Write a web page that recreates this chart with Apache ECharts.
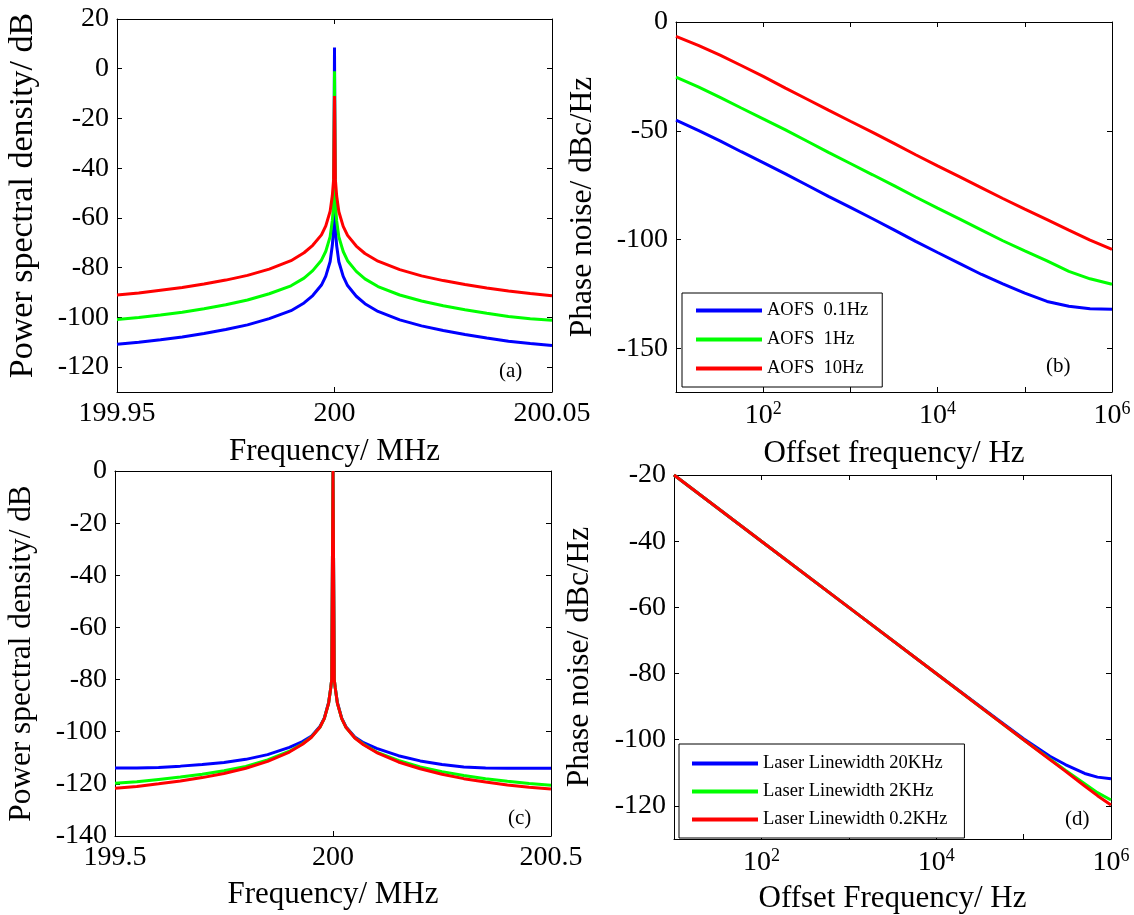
<!DOCTYPE html>
<html><head><meta charset="utf-8">
<script src="https://cdn.jsdelivr.net/npm/echarts@6/dist/echarts.min.js"></script>
<style>html,body{margin:0;padding:0;background:#fff}#c{width:1134px;height:915px}</style>
</head><body><div id="c"></div>
<script>
// ---------- Panel (a): PSD vs frequency (MHz) ----------
const freqA = [199.95,199.955,199.96,199.965,199.97,199.975,199.98,199.985,199.99,199.993,199.995,199.997,199.998,199.999,199.9995,199.9998,200,
  200.0002,200.0005,200.001,200.002,200.003,200.005,200.007,200.01,200.015,200.02,200.025,200.03,200.035,200.04,200.045,200.05];
const psdA_01Hz = [-110.8,-110.0,-109.0,-107.9,-106.5,-104.9,-103.0,-100.5,-97.3,-94.2,-91.2,-87.0,-83.4,-77.5,-71.0,-64.5,8.5,
  -64.5,-71.2,-77.6,-83.5,-87.2,-91.5,-94.5,-97.6,-101.0,-103.4,-105.3,-106.9,-108.3,-109.6,-110.5,-111.3];
const psdA_1Hz = [-100.8,-100.0,-99.0,-97.9,-96.5,-94.9,-93.0,-90.5,-87.3,-84.2,-81.2,-77.0,-73.4,-67.5,-61.0,-54.5,-1,
  -54.5,-61.2,-67.6,-73.5,-77.2,-81.5,-84.5,-87.6,-91.0,-93.4,-95.3,-96.9,-98.3,-99.6,-100.5,-101.1];
const psdA_10Hz = [-91.0,-90.2,-89.1,-88.0,-86.6,-85.0,-83.1,-80.6,-77.2,-74.0,-71.0,-66.8,-63.2,-57.3,-51.0,-44.5,-11,
  -44.5,-51.2,-57.5,-63.4,-67.0,-71.3,-74.3,-77.4,-80.8,-83.3,-85.2,-86.8,-88.2,-89.4,-90.4,-91.3];

// ---------- Panel (b): phase noise vs offset frequency (Hz) ----------
const offB = [10,18,32,56,100,180,320,560,1000,1800,3200,5600,10000,18000,32000,56000,100000,180000,320000,560000,1000000];
const pnB_01Hz = [-45.1,-49.8,-54.6,-59.6,-64.6,-69.8,-75.0,-80.1,-85.2,-90.4,-95.6,-100.8,-105.9,-111.0,-116.0,-120.3,-124.6,-128.4,-130.6,-131.7,-132.0];
const pnB_1Hz  = [-25.3,-29.8,-34.6,-39.5,-44.5,-49.6,-54.8,-59.9,-65.0,-70.2,-75.3,-80.4,-85.5,-90.6,-95.6,-100.5,-105.2,-109.8,-114.6,-118.0,-120.5];
const pnB_10Hz = [-6.6,-10.7,-15.2,-20.0,-25.0,-30.4,-35.5,-40.5,-45.6,-50.7,-55.9,-61.0,-66.1,-71.2,-76.2,-81.1,-86.0,-90.8,-95.6,-100.2,-104.5];
const namesB = ['AOFS  0.1Hz','AOFS  1Hz','AOFS  10Hz'];

// ---------- Panel (c): PSD vs frequency (MHz) ----------
const freqC = [199.5,199.55,199.6,199.65,199.7,199.75,199.8,199.85,199.9,199.93,199.95,199.97,199.98,199.99,199.995,199.997,200,
  200.003,200.005,200.01,200.02,200.03,200.05,200.07,200.1,200.15,200.2,200.25,200.3,200.35,200.4,200.45,200.5];
const psdC_20K = [-113.9,-113.9,-113.7,-113.2,-112.6,-111.8,-110.6,-108.8,-106.0,-103.8,-101.8,-98.0,-94.8,-88.8,-83.0,-80.0,0,
  -80.0,-83.0,-88.8,-94.8,-98.2,-102.0,-104.2,-106.4,-109.2,-111.2,-112.6,-113.5,-113.9,-114.0,-114.0,-114.0];
const psdC_2K = [-119.8,-119.2,-118.3,-117.4,-116.3,-115.0,-113.3,-110.8,-107.5,-104.6,-102.1,-98.3,-95.0,-89.0,-83.0,-80.0,0,
  -80.0,-83.0,-89.0,-95.0,-98.4,-102.3,-104.8,-107.8,-111.0,-113.5,-115.3,-116.8,-118.0,-119.0,-119.9,-120.5];
const psdC_02K = [-121.7,-121.0,-120.0,-118.9,-117.6,-116.0,-114.0,-111.4,-107.8,-104.8,-102.2,-98.3,-95.0,-89.0,-83.0,-80.0,0,
  -80.0,-83.0,-89.0,-95.0,-98.4,-102.4,-105.0,-108.0,-111.6,-114.2,-116.3,-118.0,-119.3,-120.4,-121.3,-122.0];

// ---------- Panel (d): phase noise vs offset frequency (Hz) ----------
const offD = [10,100,1000,10000,50000,100000,200000,300000,500000,700000,1000000];
const pnD_20K = [-20,-40,-60,-80,-93.8,-99.7,-105.0,-107.5,-110.2,-111.3,-111.8];
const pnD_2K  = [-20,-40,-60,-80,-94.0,-100.0,-105.8,-109.2,-113.3,-116.0,-118.2];
const pnD_02K = [-20,-40,-60,-80,-94.0,-100.0,-106.0,-109.5,-114.0,-116.9,-119.7];
const namesD = ['Laser Linewidth 20KHz','Laser Linewidth 2KHz','Laser Linewidth 0.2KHz'];

const COLORS = ['#0000ff','#00ff00','#ff0000'];
const FONT = "'Liberation Serif','Times New Roman',serif";
const TICK_FS = 28, XNAME_FS = 31;

const pair = (xs, ys) => xs.map((x, i) => [x, ys[i]]);
const black = {color:'#000', width:1};
const tickRich = { t: {fontFamily:FONT, fontSize:TICK_FS, color:'#000'},
                   b: {fontFamily:FONT, fontSize:TICK_FS, color:'#000'},
                   s: {fontFamily:FONT, fontSize:18, color:'#000', verticalAlign:'middle', padding:[0,0,13,0]} };

function xAxisPair(gi, base, fmt, name, gap) {
  const common = Object.assign({gridIndex: gi, splitLine:{show:false},
    axisLine:{onZero:false, lineStyle:black}, axisTick:{inside:true, length:5, lineStyle:black}}, base);
  return [
    Object.assign({}, common, {position:'bottom',
      axisLabel: {color:'#000', fontFamily:FONT, fontSize:TICK_FS, margin:8, formatter: fmt, rich: tickRich},
      name: name, nameLocation:'middle', nameGap: gap,
      nameTextStyle:{color:'#000', fontFamily:FONT, fontSize:XNAME_FS}}),
    Object.assign({}, common, {position:'top', axisLabel:{show:false}})
  ];
}
function yAxisPair(gi, base, fmt, name, gap, fs, pad) {
  const common = Object.assign({type:'value', gridIndex: gi, splitLine:{show:false},
    axisLine:{onZero:false, lineStyle:black}, axisTick:{inside:true, length:5, lineStyle:black}}, base);
  return [
    Object.assign({}, common, {position:'left',
      axisLabel: {color:'#000', fontFamily:FONT, fontSize:TICK_FS, margin:8, formatter: fmt, rich: tickRich},
      name: name, nameLocation:'middle', nameGap: gap,
      nameTextStyle:{color:'#000', fontFamily:FONT, fontSize:fs, padding: pad}}),
    Object.assign({}, common, {position:'right', axisLabel:{show:false}})
  ];
}
const step = s => v => { const r = Math.round(v); return (Math.abs(v - r) < 1e-6 && r % s === 0) ? '{t|' + r + '}' : ''; };
const fixed = d => v => '{t|' + (+v.toFixed(d)) + '}';
const logFmt = v => { const e = Math.round(Math.log10(v)); return e % 2 === 0 ? '{b|10}{s|' + e + '}' : ''; };

const xAxes = [].concat(
  xAxisPair(0, {type:'value', min:199.95, max:200.05, interval:0.05}, fixed(2), 'Frequency/ MHz', 44),
  xAxisPair(1, {type:'log', logBase:10, min:10, max:1000000}, logFmt, 'Offset frequency/ Hz', 46),
  xAxisPair(2, {type:'value', min:199.5, max:200.5, interval:0.5}, fixed(1), 'Frequency/ MHz', 43),
  xAxisPair(3, {type:'log', logBase:10, min:10, max:1000000}, logFmt, 'Offset Frequency/ Hz', 44)
);
const yAxes = [].concat(
  yAxisPair(0, {min:-130, max:20, splitNumber:7}, step(20), 'Power spectral density/ dB', 77, 34, [0,0,0,20]),
  yAxisPair(1, {min:-170, max:0, splitNumber:4}, step(50), 'Phase noise/ dBc/Hz', 77, 31.5, 0),
  yAxisPair(2, {min:-140, max:0, interval:20}, step(20), 'Power spectral density/ dB', 78, 31.3, 0),
  yAxisPair(3, {min:-130, max:-20, splitNumber:5}, step(20), 'Phase noise/ dBc/Hz', 78, 31.5, 0)
);

function line(name, data, axis, color) {
  return {type:'line', name: name, data: data, xAxisIndex: axis*2, yAxisIndex: axis*2,
    showSymbol:false, symbol:'none', lineStyle:{color: color, width:3}, itemStyle:{color: color}, z: 3};
}
const series = [
  line('a 0.1Hz', pair(freqA, psdA_01Hz), 0, COLORS[0]),
  line('a 1Hz', pair(freqA, psdA_1Hz), 0, COLORS[1]),
  line('a 10Hz', pair(freqA, psdA_10Hz), 0, COLORS[2]),
  line(namesB[0], pair(offB, pnB_01Hz), 1, COLORS[0]),
  line(namesB[1], pair(offB, pnB_1Hz), 1, COLORS[1]),
  line(namesB[2], pair(offB, pnB_10Hz), 1, COLORS[2]),
  line('c 20K', pair(freqC, psdC_20K), 2, COLORS[0]),
  line('c 2K', pair(freqC, psdC_2K), 2, COLORS[1]),
  line('c 0.2K', pair(freqC, psdC_02K), 2, COLORS[2]),
  line(namesD[0], pair(offD, pnD_20K), 3, COLORS[0]),
  line(namesD[1], pair(offD, pnD_2K), 3, COLORS[1]),
  line(namesD[2], pair(offD, pnD_02K), 3, COLORS[2])
];

const legendBase = {orient:'vertical', icon:'rect', itemWidth:66, itemHeight:4, backgroundColor:'#fff',
  borderColor:'#000', borderWidth:1, borderRadius:0, selectedMode:false,
  textStyle:{color:'#000', fontFamily:FONT, fontSize:18.5}};

const tag = (t, x, y) => ({type:'text', left: x, top: y,
  style:{text:t, fill:'#000', font: '21px ' + FONT}, z: 10});

const option = {
  animation: false,
  backgroundColor: '#fff',
  textStyle: {fontFamily: FONT, color: '#000'},
  grid: [
    {left:117, top:19, width:435, height:373},
    {left:676, top:22, width:436, height:370},
    {left:115, top:471, width:436, height:365},
    {left:674, top:475, width:437, height:366}
  ],
  xAxis: xAxes,
  yAxis: yAxes,
  legend: [
    Object.assign({}, legendBase, {data: namesB, left:682, top:293, padding:[8,14,9,14], itemGap:10}),
    Object.assign({}, legendBase, {data: namesD, left:679, top:744, padding:[10,17,9,13], itemGap:9})
  ],
  graphic: [ tag('(a)', 499, 361), tag('(b)', 1046, 356), tag('(c)', 508, 808), tag('(d)', 1065, 809) ],
  series: series
};
echarts.init(document.getElementById('c')).setOption(option);
</script></body></html>
